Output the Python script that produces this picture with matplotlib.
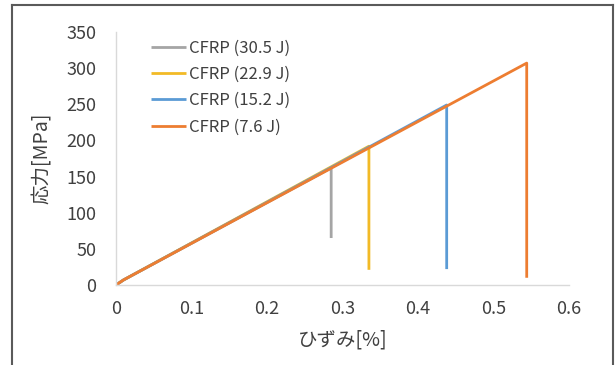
import matplotlib
matplotlib.use('Agg')
import matplotlib.pyplot as plt
from matplotlib.lines import Line2D

plt.rcParams['font.family'] = ['Noto Sans CJK JP', 'DejaVu Sans']

# strain [%] / stress [MPa]
strain_30 = [0, 0.01, 0.285, 0.285]
stress_30 = [0, 7, 162, 65]
strain_22 = [0, 0.01, 0.335, 0.335]
stress_22 = [0, 7, 192, 21]
strain_15 = [0, 0.01, 0.438, 0.438]
stress_15 = [0, 7, 249, 22]
strain_7 = [0, 0.01, 0.544, 0.544]
stress_7 = [0, 7, 307, 10]

labels = ['CFRP (30.5 J)', 'CFRP (22.9 J)', 'CFRP (15.2 J)', 'CFRP (7.6 J)']
colors = ['#A5A5A5', '#F2BA26', '#5B9BD5', '#ED7D31']

fig = plt.figure(figsize=(6.16, 3.65), dpi=100)
ax = fig.add_axes([0.1883, 0.2192, 0.7354, 0.6931])

series = [(strain_30, stress_30), (strain_22, stress_22),
          (strain_15, stress_15), (strain_7, stress_7)]
for (x, y), lab, c in zip(series, labels, colors):
    ax.plot(x, y, color=c, lw=2.0, label=lab, solid_capstyle='butt')

ax.set_xlim(0, 0.6)
ax.set_ylim(0, 350)
ax.set_xticks([0, 0.1, 0.2, 0.3, 0.4, 0.5, 0.6])
ax.set_xticklabels(['0', '0.1', '0.2', '0.3', '0.4', '0.5', '0.6'])
ax.set_yticks(range(0, 351, 50))
ax.tick_params(length=0, labelsize=13, colors='#404040', pad=14)
ax.tick_params(axis='x', pad=11)
for s in ['top', 'right']:
    ax.spines[s].set_visible(False)
for s in ['left', 'bottom']:
    ax.spines[s].set_color('#D9D9D9')
    ax.spines[s].set_linewidth(1.0)

ax.set_xlabel('ひずみ[%]', fontsize=14, color='#404040', labelpad=8)
ax.set_ylabel('応力[MPa]', fontsize=14, color='#404040', labelpad=10)

leg = ax.legend(loc='upper left', bbox_to_anchor=(0.045, 1.028), frameon=False,
                fontsize=12, handlelength=2.05,
                handletextpad=0.2, labelspacing=0.55)
for t in leg.get_texts():
    t.set_color('#404040')

# outer frame
fc = '#5A5A5A'
fig.add_artist(Line2D([12 / 616, 12 / 616], [0, 1 - 5 / 365], color=fc, lw=1.5))
fig.add_artist(Line2D([12 / 616, 613 / 616], [1 - 5 / 365, 1 - 5 / 365], color=fc, lw=1.5))
fig.add_artist(Line2D([613 / 616, 613 / 616], [0, 1 - 5 / 365], color=fc, lw=1.5))

fig.savefig('out.png', dpi=100)
